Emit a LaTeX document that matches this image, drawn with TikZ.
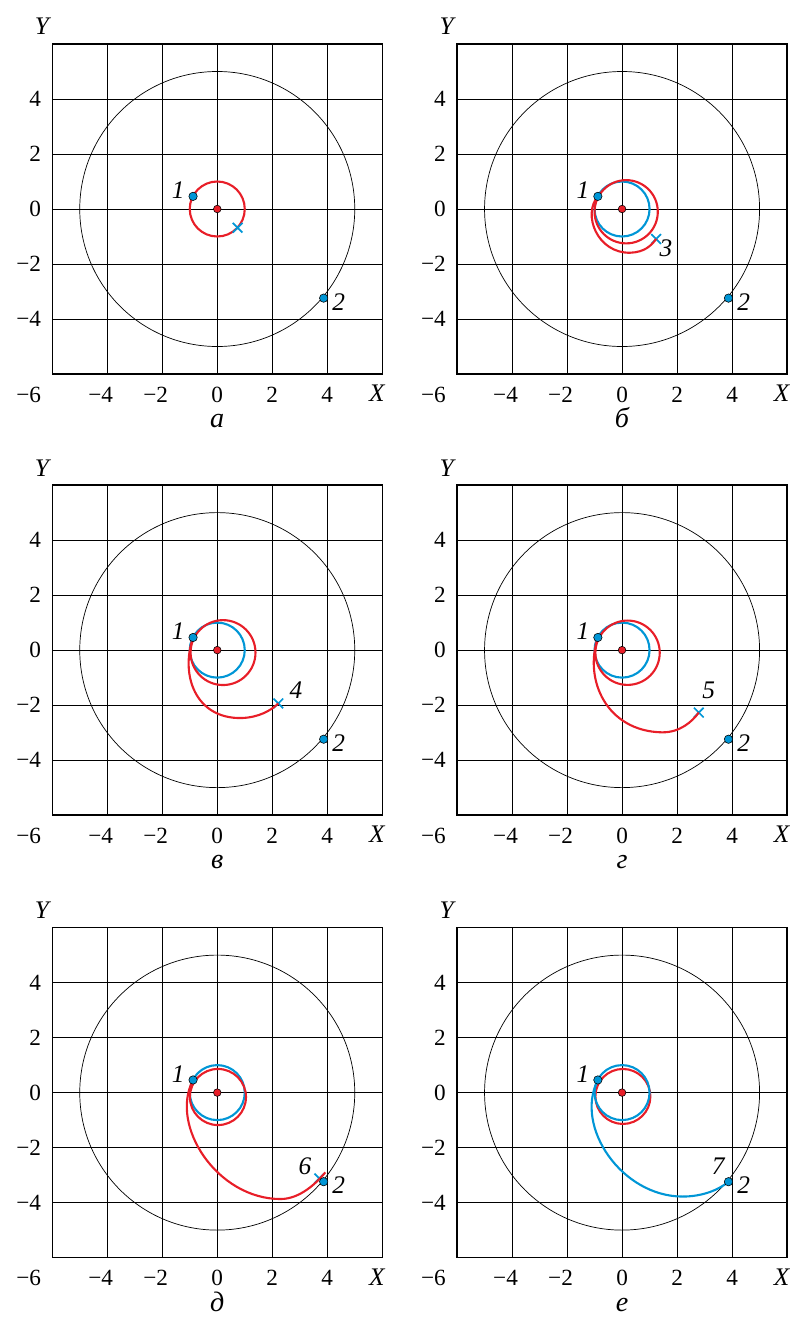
\documentclass[tikz,border=0pt]{standalone}
\usepackage{fontspec}
\setmainfont{Liberation Serif}
\usetikzlibrary{shapes.misc}
\definecolor{trajred}{RGB}{232,30,40}
\definecolor{trajblue}{RGB}{0,150,214}
\tikzset{
    gridline/.style = {
        line width=0.7pt,
        },
    box line/.style = {
        line width=1pt,
        },
    target orbit/.style = {
        line width=0.5pt,
        },
    red path/.style = {
        draw=trajred,
        line width=1.5pt,
        },
    blue path/.style = {
        draw=trajblue,
        line width=1.5pt,
        },
    bead/.style = {
        circle,
        draw=black,
        line width=0.4pt,
        fill=trajblue,
        inner sep=0pt,
        minimum size=2.1mm,
        },
    centre bead/.style = {
        bead,
        fill=trajred,
        minimum size=1.9mm,
        },
    hit/.style = {
        cross out,
        draw=trajblue,
        line width=1.2pt,
        inner sep=0pt,
        minimum size=2mm,
        },
    xtick/.style = {
        inner sep=0pt,
        },
    ytick/.style = {
        inner sep=0pt,
        anchor=east,
        },
    axis label/.style = {
        inner sep=0pt,
        font=\fontsize{18}{20}\selectfont\itshape,
        },
    point label/.style = {
        inner sep=0pt,
        font=\fontsize{18}{20}\selectfont\itshape,
        },
    caption/.style = {
        inner sep=0pt,
        anchor=base,
        font=\fontsize{20}{22}\selectfont\itshape,
        },
}

% grid, target orbit, axes and the two fixed points of one panel
\newcommand{\basepanel}[1]{%
    \draw[gridline] (-6,-6) grid[step=2] (6,6);
    \draw[box line] (-6,-6) rectangle (6,6);
    \draw[target orbit] (0,0) circle (5);
    \foreach \v/\t in {-4/{\llap{−}4},-2/{\llap{−}2},0/0,2/2,4/4}
        \node[xtick] (xt\v) at (\v,-6.75) {\t};
    \foreach \v/\t in {-4/−4,-2/−2,0/0,2/2,4/4}
        \node[ytick] (yt\v) at (-6.4,\v) {\t};
    \node[ytick] (corner) at (-6.4,-6.75) {−6};
    \node[axis label] (xlab) at (5.8,-6.7) {X};
    \node[axis label] (ylab) at (-6.38,6.63) {Y};
    \node[caption] (cap) at (0,-7.95) {#1};
    \coordinate (p1) at (-0.88,0.46);
    \coordinate (p2) at (3.87,-3.24);
    \node[point label] (l1) at (-1.42,0.68) {1};
    \node[point label] (l2) at (4.42,-3.37) {2};
}
\newcommand{\beads}{%
    \node[centre bead] (c) at (0,0) {};
    \node[bead] (b1) at (p1) {};
    \node[bead] (b2) at (p2) {};
}

\begin{document}
\begin{tikzpicture}[x=0.6875cm, y=0.6875cm, font=\fontsize{16.5}{18}\selectfont]
    \useasboundingbox (-7.90,7.60) rectangle (20.93,-40.29);

    % a
    \begin{scope}[name prefix=a-]
        \basepanel{а}
        \draw[red path] (0,0) circle (1);
        \node[hit] (x) at (0.74,-0.68) {};
        \beads
    \end{scope}

    % b
    \begin{scope}[shift={(14.72,0)}, name prefix=b-]
        \basepanel{б}
        \draw[blue path] (0,0) circle (1);
        \draw[red path] (0.15,-0.1) circle (1.15);
        \node[hit] (x) at (1.24,-1.09) {};
        \coordinate (low) at (0.3,-1.59);
        \draw[red path] (p1) .. controls (-1.45,-0.2) and (-0.9,-1.62) .. (low)
                              .. controls (0.8,-1.57) and (1.05,-1.35) .. (x.center);
        \node[point label] (l3) at (1.6,-1.43) {3};
        \beads
    \end{scope}

    % v
    \begin{scope}[shift={(0,-16.04)}, name prefix=v-]
        \basepanel{в}
        \draw[blue path] (0,0) circle (1);
        \draw[red path] (0.21,-0.09) circle (1.18);
        \node[hit] (x) at (2.22,-1.94) {};
        \coordinate (low) at (0.88,-2.47);
        \draw[red path] (p1) .. controls (-1.35,-0.9) and (-0.8,-2.5) .. (low)
                              .. controls (1.5,-2.45) and (1.95,-2.2) .. (x.center);
        \node[point label] (l4) at (2.86,-1.45) {4};
        \beads
    \end{scope}

    % g
    \begin{scope}[shift={(14.72,-16.04)}, name prefix=g-]
        \basepanel{г}
        \draw[blue path] (0,0) circle (1);
        \draw[red path] (0.2,-0.095) circle (1.17);
        \node[hit] (x) at (2.79,-2.27) {};
        \coordinate (low) at (1.45,-2.99);
        \draw[red path] (p1) .. controls (-1.4,-1.1) and (-0.55,-2.95) .. (low)
                              .. controls (2.1,-3.0) and (2.55,-2.6) .. (x.center);
        \node[point label] (l5) at (3.15,-1.45) {5};
        \beads
    \end{scope}

    % d
    \begin{scope}[shift={(0,-32.13)}, name prefix=d-]
        \basepanel{д}
        \draw[blue path] (0,0) circle (1);
        \draw[red path] (0.025,-0.16) circle (1.02);
        \node[hit] (x) at (3.71,-3.12) {};
        \coordinate (low) at (2.3,-3.87);
        \coordinate (tip) at (3.93,-2.9);
        \draw[red path] (p1) .. controls (-1.75,-1.2) and (0,-3.87) .. (low)
                              .. controls (3.0,-3.87) and (3.6,-3.3) .. (tip);
        \node[point label] (l6) at (3.19,-2.67) {6};
        \beads
    \end{scope}

    % e
    \begin{scope}[shift={(14.72,-32.13)}, name prefix=e-]
        \basepanel{е}
        \draw[red path] (0.03,-0.14) circle (1);
        \draw[blue path] (0,0) circle (1);
        \coordinate (low) at (2.2,-3.78);
        \draw[blue path] (p1) .. controls (-1.75,-1.25) and (0,-3.78) .. (low)
                               .. controls (2.9,-3.78) and (3.5,-3.55) .. (p2);
        \node[point label] (l7) at (3.5,-2.69) {7};
        \beads
    \end{scope}
\end{tikzpicture}
\end{document}
